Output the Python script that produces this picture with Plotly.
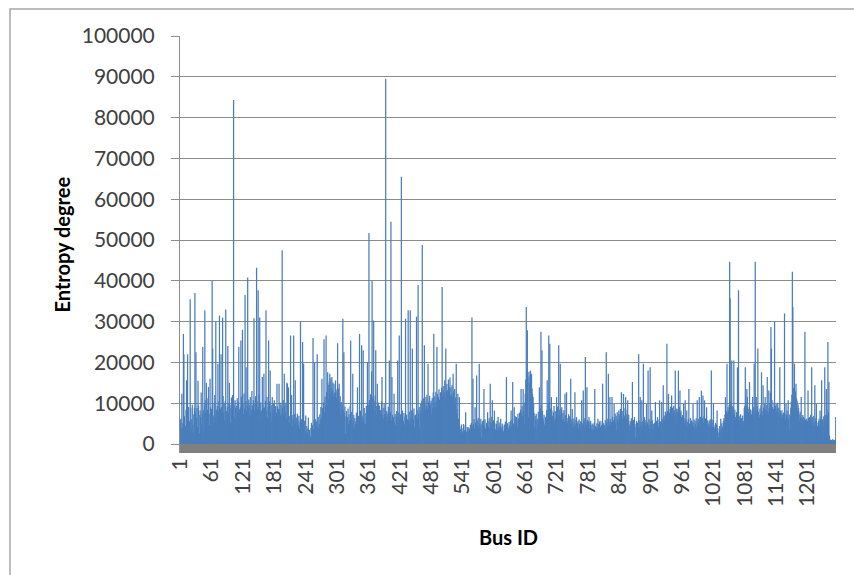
import plotly.graph_objects as go

# Entropy degree per bus (bus IDs 1..1255)
entropy_degree = [
    5800, 6200, 4100, 12300, 3800, 5200, 27000, 22000, 6800, 3600,
    4500, 8400, 15600, 3400, 22000, 7200, 9100, 3100, 5600, 35500,
    8800, 3600, 6100, 9600, 4700, 2900, 7300, 8900, 37000, 7800,
    22500, 6400, 8800, 4200, 15500, 9500, 7100, 2700, 8200, 6600,
    12600, 4800, 7400, 23800, 8300, 3200, 9700, 32800, 7600, 10800,
    15000, 6900, 8400, 11200, 14000, 7400, 4600, 16000, 9000, 6300,
    8600, 40000, 23400, 7000, 5100, 9800, 12000, 6700, 30000, 8400,
    5400, 9300, 19700, 7900, 10400, 31500, 6200, 8700, 22000, 9100,
    4200, 31000, 11800, 7700, 9900, 5800, 10600, 33000, 8100, 6400,
    9200, 24000, 7500, 10100, 15000, 8800, 5300, 9600, 11400, 7100,
    12000, 8300, 84300, 9700, 6600, 10700, 8900, 5900, 9400, 11200,
    7800, 10300, 23800, 8500, 6100, 9000, 25400, 11600, 8200, 28000,
    9800, 7400, 12400, 8700, 36500, 10500, 18800, 8100, 9300, 40800,
    8800, 10900, 7300, 9600, 11500, 6800, 8400, 13000, 9500, 7600,
    10800, 30800, 8200, 9900, 11700, 7400, 43200, 10400, 8600, 37700,
    9100, 12100, 31000, 7900, 10200, 8300, 6200, 16400, 9600, 8800,
    17200, 9000, 7300, 10600, 32800, 8100, 11500, 6400, 9200, 25400,
    8800, 10400, 18000, 7700, 9500, 5600, 11500, 8300, 9900, 7100,
    10700, 8100, 9300, 5900, 7700, 14800, 9200, 6300, 8600, 14800,
    8400, 10200, 6900, 9600, 7500, 47500, 8900, 10800, 7200, 17200,
    9500, 7800, 10100, 6300, 15000, 14800, 8600, 13900, 6900, 5200,
    6800, 26600, 5400, 12000, 7100, 4300, 6200, 26600, 5600, 7400,
    15600, 5100, 6500, 3900, 7400, 5800, 4600, 6900, 3700, 5500,
    30000, 4800, 6100, 3600, 25000, 5300, 19700, 4100, 5700, 3200,
    7000, 2900, 4400, 2600, 3800, 6500, 2300, 3500, 2100, 1600,
    3900, 5200, 2800, 4600, 26000, 3700, 5900, 20000, 4300, 6100,
    3600, 5500, 22000, 4200, 6700, 3900, 4900, 7300, 5800, 9100,
    6400, 16000, 8800, 5600, 10200, 25700, 7800, 11600, 9400, 26600,
    12800, 10100, 17600, 14500, 11200, 15300, 17200, 12400, 16100, 13700,
    16400, 13200, 15100, 11900, 14800, 12600, 10800, 15600, 13400, 11300,
    12900, 24700, 10400, 13600, 14800, 9800, 11700, 7400, 10300, 8600,
    9700, 30700, 8300, 22500, 7600, 9200, 2500, 6800, 8100, 5400,
    6600, 8700, 4900, 7300, 5800, 9400, 25400, 6200, 7900, 4600,
    17200, 5800, 7100, 3900, 6400, 4900, 5500, 7700, 4300, 13900,
    5200, 6900, 4500, 27000, 6100, 8200, 4800, 24200, 7000, 5700,
    23000, 6300, 8800, 5100, 4900, 7600, 9400, 6200, 20100, 8300,
    9600, 51700, 10800, 7400, 12200, 9100, 17800, 40000, 11500, 8700,
    30300, 10600, 8200, 11900, 23000, 9300, 7100, 14800, 8600, 10200,
    7800, 9400, 4100, 8300, 6700, 10500, 16400, 7200, 8800, 6100,
    9800, 7300, 8900, 89500, 6600, 8100, 5700, 7500, 9200, 6800,
    20500, 6200, 7900, 54500, 5800, 16400, 7100, 4900, 6600, 12300,
    5300, 7400, 4600, 6800, 8100, 5200, 20500, 6300, 7700, 26600,
    5900, 7300, 4400, 65500, 6900, 8200, 5100, 5700, 7600, 4800,
    6700, 30700, 5500, 7200, 4300, 6100, 32800, 5800, 7900, 5000,
    32800, 6400, 8300, 5300, 23400, 7700, 6000, 8700, 4100, 6900,
    7200, 5600, 31200, 8400, 6300, 39000, 7500, 9100, 4100, 8200,
    9800, 7400, 10600, 48800, 8900, 11200, 7800, 24200, 10100, 8300,
    11500, 9400, 12100, 8600, 19700, 10300, 7900, 11800, 4900, 9700,
    10600, 7400, 11300, 8800, 12600, 27000, 9900, 11700, 9000, 12800,
    10400, 23800, 12300, 9600, 11500, 13400, 10900, 10700, 12700, 11100,
    13800, 38500, 11900, 14200, 13100, 12400, 15600, 11300, 23400, 12900,
    14700, 13200, 11500, 15800, 12600, 13900, 16300, 11800, 13900, 12200,
    14400, 11600, 17200, 12900, 10800, 13500, 9700, 11400, 19700, 8600,
    7400, 12300, 6200, 5100, 11500, 4300, 3600, 1600, 4800, 3200,
    2800, 3900, 4900, 2500, 3400, 4600, 7800, 3100, 2700, 4200,
    3300, 4100, 2900, 3800, 3300, 4700, 3100, 5200, 31000, 4400,
    16000, 4900, 6100, 3700, 9000, 5300, 4200, 16800, 5800, 4600,
    6400, 3900, 19700, 5100, 4300, 6200, 1600, 4800, 5600, 3500,
    5900, 13500, 4400, 6100, 3800, 3300, 5200, 4600, 7800, 5500,
    4100, 6300, 3700, 14800, 5400, 4800, 6700, 10700, 3900, 5800,
    4500, 8200, 5100, 3600, 1600, 4900, 5700, 3400, 6600, 4200,
    5300, 3800, 4700, 6200, 4100, 3500, 5000, 4400, 2900, 3300,
    4800, 3700, 5500, 4300, 16400, 3900, 5100, 4100, 3600, 5400,
    4600, 3800, 5700, 8200, 4300, 6100, 15200, 5000, 4700, 9000,
    5300, 6800, 4400, 6600, 5900, 4200, 7400, 6300, 5100, 7700,
    6900, 8400, 13500, 7600, 9300, 6800, 13500, 8100, 10200, 4900,
    12300, 15800, 33600, 18200, 27900, 16400, 6600, 17700, 14900, 16800,
    18000, 15300, 17200, 13600, 12200, 11500, 9800, 7600, 4100, 6900,
    5800, 7400, 3300, 6200, 5100, 7900, 4600, 13900, 6300, 8800,
    27500, 9600, 23000, 8100, 6400, 5700, 7200, 4800, 3300, 6700,
    5900, 8300, 15600, 7400, 9800, 26600, 10400, 24600, 8700, 7300,
    11500, 8200, 6900, 4900, 7700, 9300, 5700, 8100, 6400, 7900,
    11500, 7100, 9200, 6600, 24200, 8400, 7300, 19700, 6900, 8500,
    9000, 5800, 7600, 6200, 8300, 5400, 12300, 7100, 6600, 12700,
    6400, 5100, 5700, 7300, 4600, 6800, 5300, 16000, 6100, 4900,
    8600, 5500, 4200, 6300, 5000, 12700, 4700, 5900, 6600, 4400,
    5200, 5700, 3800, 6000, 4900, 4100, 5600, 3700, 10700, 5100,
    4500, 13100, 5800, 4000, 6300, 21300, 5400, 4700, 13900, 5900,
    4300, 5600, 6600, 3900, 5200, 5700, 4600, 3600, 5000, 3300,
    4800, 3700, 5300, 13500, 4400, 3500, 4100, 5100, 3800, 6200,
    4900, 3600, 5400, 5700, 4200, 3300, 4700, 5600, 14800, 4000,
    5100, 3300, 4600, 5800, 3900, 22500, 5300, 4400, 6200, 17200,
    5600, 4700, 11500, 6100, 4300, 5400, 11500, 6700, 4900, 5800,
    9800, 6300, 7500, 5200, 6900, 3300, 7800, 6100, 5400, 8200,
    7300, 5900, 8600, 6700, 12700, 7900, 6200, 8100, 12300, 7000,
    6600, 8800, 11500, 7300, 6100, 8400, 10700, 5700, 7200, 4800,
    3300, 5600, 4400, 6300, 5100, 15200, 4700, 5900, 3800, 6600,
    4200, 1600, 4900, 5700, 3600, 5300, 4500, 22000, 5800, 4100,
    11500, 5200, 4300, 10700, 5600, 3900, 19700, 4800, 6600, 5400,
    4600, 5900, 9800, 4100, 5300, 18000, 4700, 6100, 3800, 18800,
    5500, 4400, 8200, 5900, 3700, 4900, 3300, 5200, 4300, 10300,
    4800, 5700, 3900, 6600, 5100, 4200, 6000, 10700, 4600, 5500,
    4900, 10300, 6200, 5300, 14400, 6700, 5800, 7000, 7900, 6400,
    7300, 24600, 8100, 7000, 12300, 8600, 7700, 7400, 9200, 8000,
    11900, 7600, 8900, 7800, 9400, 7200, 8300, 18000, 7500, 8700,
    5300, 7800, 8600, 18000, 7400, 9100, 13100, 7700, 8200, 6600,
    5700, 7100, 4800, 9800, 6300, 5200, 10700, 6000, 4500, 8200,
    5400, 4300, 6100, 13500, 5000, 4600, 6400, 3300, 5800, 4700,
    5300, 9800, 4400, 6000, 3800, 5700, 4900, 6300, 4100, 10700,
    5600, 4700, 6200, 11500, 5100, 6700, 4400, 13100, 5900, 6400,
    11900, 5200, 6800, 10700, 4900, 6300, 5500, 9000, 4600, 5800,
    5000, 4100, 5700, 4400, 6100, 3800, 18000, 5300, 4200, 6000,
    9800, 4600, 3700, 4100, 5200, 3400, 4800, 8200, 3900, 2800,
    1600, 3600, 4400, 2900, 6200, 3800, 5100, 4300, 3300, 5600,
    6300, 5400, 7200, 11500, 6800, 8100, 19700, 7400, 9000, 8200,
    9600, 44700, 35700, 10400, 8800, 20500, 9300, 7600, 8900, 20500,
    7200, 8400, 6600, 4900, 7800, 6100, 18800, 7400, 37700, 6900,
    5800, 6600, 7300, 5100, 6400, 4100, 7000, 5500, 5700, 8800,
    9400, 18800, 10300, 8700, 13500, 11500, 9100, 7800, 8600, 15200,
    7900, 8500, 4900, 7300, 8200, 11500, 6800, 9000, 19700, 7700,
    44700, 8300, 11500, 7600, 9200, 23400, 8000, 7100, 6600, 8700,
    7400, 9500, 17600, 8100, 7000, 14400, 8900, 7600, 9800, 11500,
    8400, 7200, 9600, 16400, 8000, 7500, 13100, 8800, 9900, 12600,
    28700, 23400, 10800, 9100, 7400, 8600, 10200, 30000, 8300, 9400,
    9800, 7900, 8700, 10100, 7400, 8900, 7100, 18800, 8200, 7600,
    6600, 8300, 7200, 5700, 7700, 6400, 32000, 7400, 6000, 9800,
    7100, 8200, 6500, 10700, 5900, 7300, 3300, 6800, 8900, 10400,
    12100, 42200, 33600, 13800, 12600, 19700, 11900, 12900, 14800, 11200,
    10600, 8200, 9700, 8800, 7300, 5700, 7900, 6600, 11500, 6200,
    5400, 7100, 6600, 4800, 6300, 27500, 5900, 3300, 6200, 5200,
    5700, 13100, 6400, 4900, 6600, 5500, 7200, 4700, 18800, 5900,
    6600, 5100, 6900, 4600, 14400, 5800, 6300, 9800, 5200, 4400,
    3300, 5600, 6200, 4700, 8200, 5900, 6700, 15600, 5400, 6100,
    4100, 6800, 5500, 18800, 7100, 6300, 13500, 8400, 6900, 25000,
    7800, 15200, 2100, 900, 1100, 800, 1000, 800, 1200, 900,
    800, 1000, 900, 1100, 6600,
]
bus_id = list(range(1, len(entropy_degree) + 1))

x_tick_values = [1, 61, 121, 181, 241, 301, 361, 421, 481, 541, 601, 661,
                 721, 781, 841, 901, 961, 1021, 1081, 1141, 1201]
x_tick_labels = [str(v) for v in x_tick_values]
y_tick_values = [0, 10000, 20000, 30000, 40000, 50000, 60000, 70000,
                 80000, 90000, 100000]
y_tick_labels = [str(v) for v in y_tick_values]

FLOOR = -2200
N = len(entropy_degree)
FONT = "Lato, 'Open Sans', sans-serif"

fig = go.Figure(go.Bar(
    x=bus_id, y=entropy_degree,
    width=2.4,
    marker=dict(color="#4a7ebb", line=dict(width=0)),
    hoverinfo="skip",
))

fig.update_layout(
    width=854, height=575,
    margin=dict(l=180, r=18, t=36, b=122),
    paper_bgcolor="white", plot_bgcolor="white",
    bargap=0,
    showlegend=False,
    font=dict(family=FONT, size=21, color="#404040"),
    xaxis=dict(
        range=[0.5, N + 0.5],
        tickmode="array", tickvals=x_tick_values, ticktext=x_tick_labels,
        tickangle=-90, ticks="", showgrid=False, zeroline=False,
        showline=False,
        tickfont=dict(family=FONT, size=21, color="#404040"),
    ),
    yaxis=dict(
        range=[FLOOR, 100000],
        tickmode="array", tickvals=y_tick_values, ticktext=y_tick_labels,
        ticks="outside", ticklen=8, tickcolor="#8c8c8c", tickwidth=1,
        showgrid=True, gridcolor="#8c8c8c", gridwidth=1,
        zeroline=False, showline=True, linecolor="#8c8c8c", linewidth=1,
        ticklabelstandoff=12,
        tickfont=dict(family=FONT, size=21, color="#404040"),
    ),
    shapes=[
        # grey floor under the bars
        dict(type="rect", xref="paper", yref="y", x0=0, x1=1, y0=FLOOR, y1=0,
             fillcolor="#808080", line=dict(width=0), layer="above"),
        # outer chart frame (left and top edges visible)
        dict(type="rect", xref="paper", yref="paper",
             x0=-170 / 656, x1=1.4, y0=-0.6, y1=(453 - 9) / 417,
             line=dict(color="#a6a6a6", width=1.5), fillcolor="rgba(0,0,0,0)",
             layer="below"),
    ],
    annotations=[
        dict(text="<b>Bus ID</b>", xref="paper", yref="paper",
             x=0.5, y=(453 - 537) / 417, showarrow=False,
             font=dict(family=FONT, size=20, color="black"),
             xanchor="center", yanchor="middle"),
        dict(text="<b>Entropy degree</b>", xref="paper", yref="paper",
             x=(61 - 180) / 656, y=0.5, showarrow=False, textangle=-90,
             font=dict(family=FONT, size=20, color="black"),
             xanchor="center", yanchor="middle"),
    ],
)

smooth_bars = """
document.querySelectorAll('.barlayer path, .trace.bars path').forEach(function (p) {
    p.style.setProperty('shape-rendering', 'geometricPrecision', 'important');
    p.setAttribute('shape-rendering', 'geometricPrecision');
});
"""

fig.write_html("out.html", config={"staticPlot": True}, post_script=smooth_bars)
